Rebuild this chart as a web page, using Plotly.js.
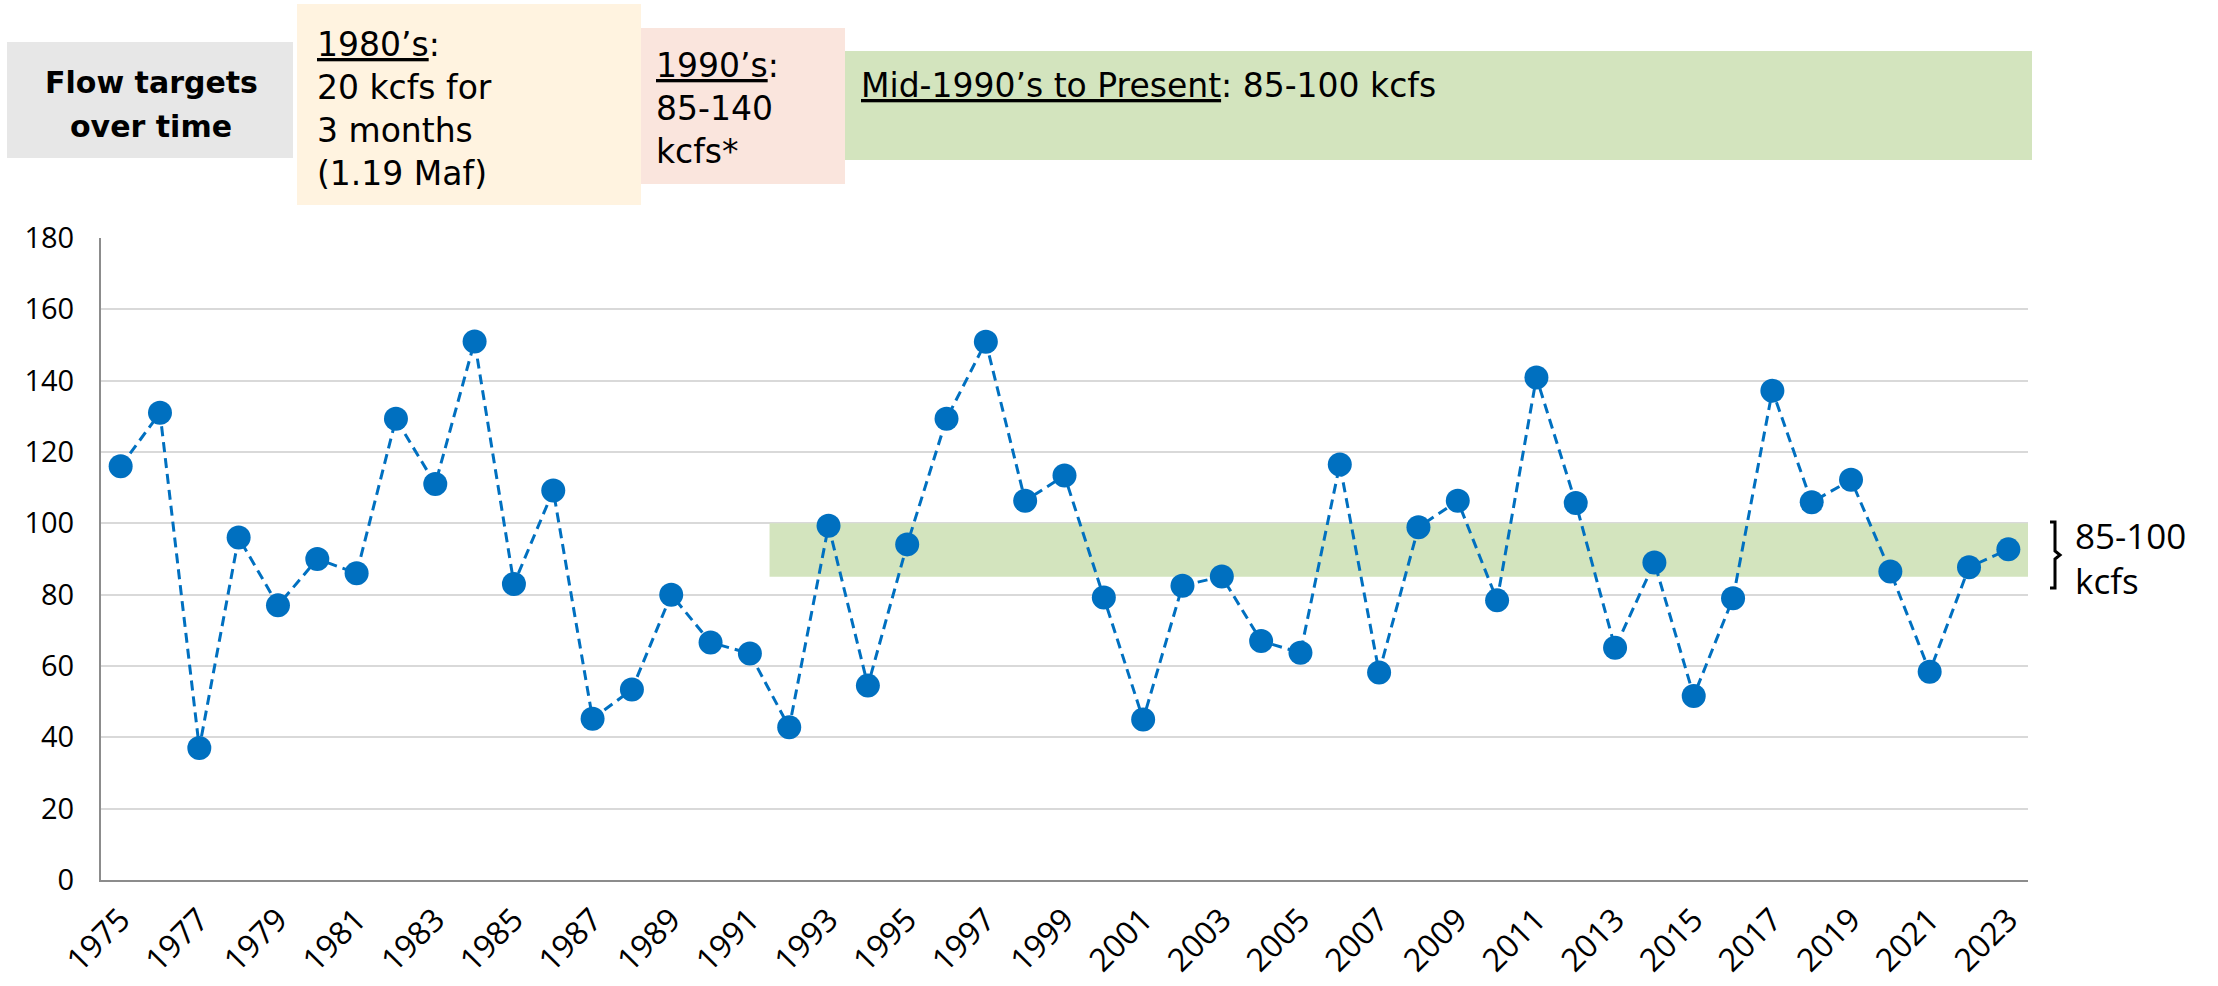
<!DOCTYPE html>
<html>
<head>
<meta charset="utf-8">
<script src="https://cdn.plot.ly/plotly-3.0.1.min.js"></script>
<style>html,body{margin:0;padding:0;background:#fff;}#chart{width:2218px;height:986px;}</style>
</head>
<body>
<div id="chart"></div>
<script>
// ---- data ----
var years = [1975,1976,1977,1978,1979,1980,1981,1982,1983,1984,1985,1986,1987,1988,1989,1990,1991,1992,1993,1994,1995,1996,1997,1998,1999,2000,2001,2002,2003,2004,2005,2006,2007,2008,2009,2010,2011,2012,2013,2014,2015,2016,2017,2018,2019,2020,2021,2022,2023];
var flows = [116,131,37,96,77,90,86,129.3,111,151,83,109.2,45.2,53.4,80,66.6,63.5,42.8,99.3,54.5,94.1,129.3,150.9,106.3,113.4,79.2,45,82.5,85.1,67,63.7,116.5,58.2,98.9,106.3,78.4,140.9,105.7,65.1,89,51.6,79,137.2,105.9,112.2,86.5,58.4,87.7,92.7];
var yTicks = [0,20,40,60,80,100,120,140,160,180];
var targetLow = 85, targetHigh = 100, targetStartYear = 1992;
var headerGray = ['<b>Flow targets</b>','<b>over time</b>'];
var header80s = ['<span style="text-decoration:underline">1980’s</span>:','20 kcfs for','3 months','(1.19 Maf)'];
var header90s = ['<span style="text-decoration:underline">1990’s</span>:','85-140','kcfs*'];
var headerMid = '<span style="text-decoration:underline">Mid-1990’s to Present</span>: 85-100 kcfs';
var bandLabel = ['85-100','kcfs'];

// ---- layout helpers (pixel -> paper) ----
var L = 101, R = 2028, T = 238, B = 880;
function px(x){ return (x - L) / (R - L); }
function py(y){ return (B - y) / (B - T); }

var tickFontFam = 'Open Sans, Noto Sans, sans-serif';
var hdrFontFam = 'DejaVu Sans, Verdana, sans-serif';

var shapes = [
  // target band
  {type:'rect', xref:'x', yref:'y', x0:targetStartYear-0.5, x1:years[years.length-1]+0.5, y0:targetLow, y1:targetHigh,
   fillcolor:'#D3E4BE', line:{width:0}, layer:'between'},
  // header boxes
  {type:'rect', xref:'paper', yref:'paper', x0:px(7), x1:px(293), y0:py(158), y1:py(42), fillcolor:'#E7E7E7', line:{width:0}},
  {type:'rect', xref:'paper', yref:'paper', x0:px(297), x1:px(641), y0:py(205), y1:py(4), fillcolor:'#FFF3E0', line:{width:0}},
  {type:'rect', xref:'paper', yref:'paper', x0:px(641), x1:px(845), y0:py(184), y1:py(28), fillcolor:'#FAE5DD', line:{width:0}},
  {type:'rect', xref:'paper', yref:'paper', x0:px(845), x1:px(2032), y0:py(160), y1:py(51), fillcolor:'#D3E4BE', line:{width:0}},
  // bracket
  {type:'path', xref:'paper', yref:'paper',
   path:'M '+px(2050)+','+py(522)+' L '+px(2055)+','+py(522)+' L '+px(2055)+','+py(551)+' L '+px(2060)+','+py(555)+' L '+px(2055)+','+py(559)+' L '+px(2055)+','+py(588)+' L '+px(2050)+','+py(588),
   line:{color:'#000', width:3}}
];

var annotations = [];
function addText(txt, x, y, anchor, font, align){
  annotations.push({text:txt, xref:'paper', yref:'paper', x:px(x), y:py(y), xanchor:anchor, yanchor:'middle',
    align:align || anchor, showarrow:false, font:font, borderpad:0});
}
var hb = {family:hdrFontFam, size:30, color:'#000'};
var hf = {family:hdrFontFam, size:33, color:'#000'};
addText(headerGray[0], 151, 83, 'center', hb);
addText(headerGray[1], 151, 127, 'center', hb);
addText(header80s.join('<br>'), 316, 109, 'left', hf);
addText(header90s.join('<br>'), 655, 108, 'left', hf);
addText(headerMid, 860, 86, 'left', hf);
var bf = {family:tickFontFam, size:35, color:'#000'};
addText(bandLabel[0], 2074, 535, 'left', bf);
addText(bandLabel[1], 2074, 580, 'left', bf);

var trace = {
  x: years, y: flows, type:'scatter', mode:'lines+markers',
  line:{color:'#0070C0', width:3, dash:'10px,6px'},
  marker:{color:'#0070C0', size:24},
  hoverinfo:'x+y'
};

var layout = {
  width:2218, height:986,
  margin:{l:L, r:2218-R, t:T, b:986-B, pad:0},
  paper_bgcolor:'#fff', plot_bgcolor:'#fff',
  showlegend:false,
  font:{family:tickFontFam, size:29, color:'#000'},
  xaxis:{
    range:[years[0]-0.5, years[years.length-1]+0.5],
    tickmode:'linear', tick0:years[0], dtick:2, tickangle:-45,
    showgrid:false, zeroline:false,
    showline:true, linecolor:'#8c8c8c', linewidth:2,
    ticks:'', ticklabelstandoff:6,
    tickfont:{size:32, color:'#000'}
  },
  yaxis:{
    range:[0,180], tickmode:'array', tickvals:yTicks,
    showgrid:true, gridcolor:'#D9D9D9', gridwidth:2,
    zeroline:false, showline:true, linecolor:'#8c8c8c', linewidth:2,
    ticks:'', ticklabelstandoff:19,
    tickfont:{size:29, color:'#000'}
  },
  shapes:shapes,
  annotations:annotations
};

Plotly.newPlot('chart', [trace], layout, {displayModeBar:false, staticPlot:true});
</script>
</body>
</html>
